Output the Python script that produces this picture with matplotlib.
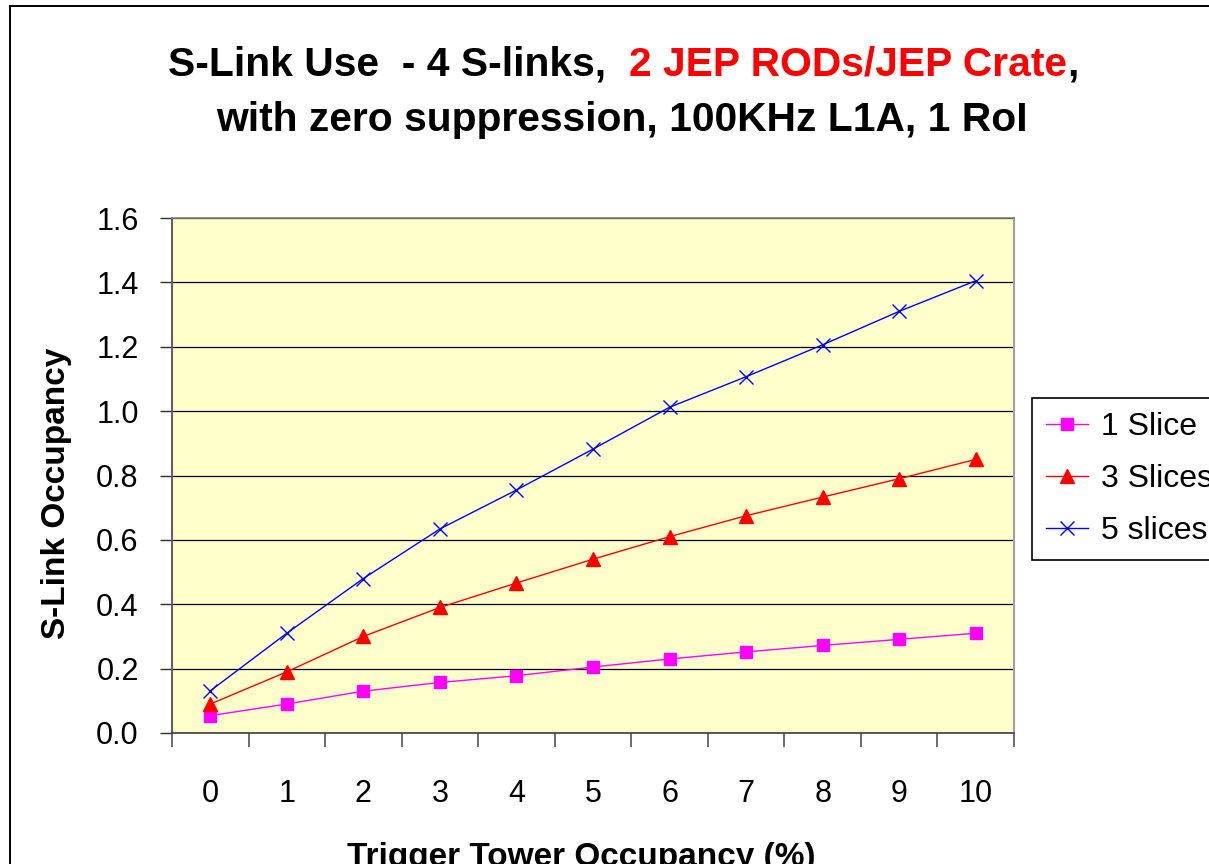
import matplotlib
matplotlib.use("Agg")
import matplotlib.pyplot as plt
from matplotlib.patches import Rectangle

plt.rcParams['font.family'] = ['Liberation Sans', 'DejaVu Sans']

# ---- data ----
occupancy = [0, 1, 2, 3, 4, 5, 6, 7, 8, 9, 10]
slice1 = [0.054, 0.090, 0.130, 0.157, 0.178, 0.205, 0.230, 0.252, 0.272, 0.291, 0.310]
slices3 = [0.090, 0.190, 0.300, 0.390, 0.466, 0.540, 0.610, 0.675, 0.733, 0.790, 0.850]
slices5 = [0.131, 0.310, 0.480, 0.634, 0.755, 0.882, 1.012, 1.107, 1.206, 1.310, 1.405]
series_labels = ["1 Slice", "3 Slices", "5 slices"]
yticks = [0.0, 0.2, 0.4, 0.6, 0.8, 1.0, 1.2, 1.4, 1.6]
title1_parts = ["S-Link Use  - 4 S-links,  ", "2 JEP RODs/JEP Crate", ","]
title2 = "with zero suppression, 100KHz L1A, 1 RoI"
xlabel = "Trigger Tower Occupancy (%)"
ylabel = "S-Link Occupancy"

W, H = 1209, 864
fig = plt.figure(figsize=(W / 100, H / 100), dpi=100)
fig.patch.set_facecolor('white')

ax = fig.add_axes([172 / W, 1 - 733 / H, (1014 - 172) / W, (733 - 218) / H])
ax.set_facecolor('#FFFFCC')

ax.plot(occupancy, slice1, color='#FF00FF', lw=1.0, marker='s', ms=8,
        mec='#FF00FF', mfc='#FF00FF', label=series_labels[0], zorder=3)
ax.plot(occupancy, slices3, color='#FF0000', lw=1.0, marker='^', ms=10,
        mec='#FF0000', mfc='#FF0000', label=series_labels[1], zorder=3)
ax.plot(occupancy, slices5, color='#0000FF', lw=1.0, marker='x', ms=10,
        mew=1.0, label=series_labels[2], zorder=3)

ax.set_xlim(-0.5, 10.5)
ax.set_ylim(0, 1.6)
ax.set_yticks(yticks)
ax.set_yticklabels([f"{v:.1f}" for v in yticks], fontsize=22)
ax.yaxis.grid(True, color='black', lw=0.9)
ax.set_axisbelow(True)

# category axis: ticks at boundaries, labels at centres
bounds = [c - 0.5 for c in occupancy] + [occupancy[-1] + 0.5]
ax.set_xticks(bounds)
ax.set_xticklabels([])
ax.set_xticks(occupancy, minor=True)
ax.set_xticklabels([str(c) for c in occupancy], minor=True, fontsize=22)
ax.tick_params(axis='x', which='major', direction='out', length=10, width=1.3, color='#606060')
ax.tick_params(axis='x', which='minor', length=0, pad=33)
ax.tick_params(axis='y', direction='out', length=9, width=1.0, color='#303030', pad=15)

ax.spines['left'].set_color('#606060')
ax.spines['left'].set_linewidth(1.5)
ax.spines['bottom'].set_color('#404040')
ax.spines['bottom'].set_linewidth(1.2)
ax.spines['top'].set_color('#808080')
ax.spines['top'].set_linewidth(1.2)
ax.spines['right'].set_color('#a0a0a0')
ax.spines['right'].set_linewidth(1.5)

# axis labels
fig.text(57 / W, 1 - 493 / H, ylabel, rotation=90, ha='center', va='center',
         fontsize=24, fontweight='bold')
fig.text(581 / W, 1 - 866 / H, xlabel, ha='center', va='baseline',
         fontsize=24, fontweight='bold')

# title with coloured part
renderer = fig.canvas.get_renderer()
colors = ['black', '#FF0000', 'black']
texts = []
for part, c in zip(title1_parts, colors):
    t = fig.text(0, 1 - 75 / H, part, fontsize=29.3, fontweight='bold', color=c,
                 ha='left', va='baseline')
    texts.append(t)
widths = [t.get_window_extent(renderer).width for t in texts]
total = sum(widths)
x0 = 623 - total / 2
for t, w in zip(texts, widths):
    t.set_x(x0 / W)
    x0 += w
fig.text(622 / W, 1 - 131 / H, title2, fontsize=29.3, fontweight='bold',
         ha='center', va='baseline')

# legend (clipped at right edge like the original)
leg = fig.legend(loc='upper left', bbox_to_anchor=(1032 / W, 1 - 398 / H),
                 bbox_transform=fig.transFigure, fontsize=23, frameon=True,
                 fancybox=False, edgecolor='black', framealpha=1,
                 handlelength=1.3, handletextpad=0.4, borderpad=0.45,
                 labelspacing=0.68, numpoints=1, borderaxespad=0)
leg.get_frame().set_linewidth(1.2)

# outer chart border
fig.add_artist(Rectangle((10 / W, -0.1), 2.0, (H - 6.5) / H + 0.1,
                         transform=fig.transFigure, fill=False,
                         edgecolor='black', lw=1.4))

fig.savefig('out.png', dpi=100)
